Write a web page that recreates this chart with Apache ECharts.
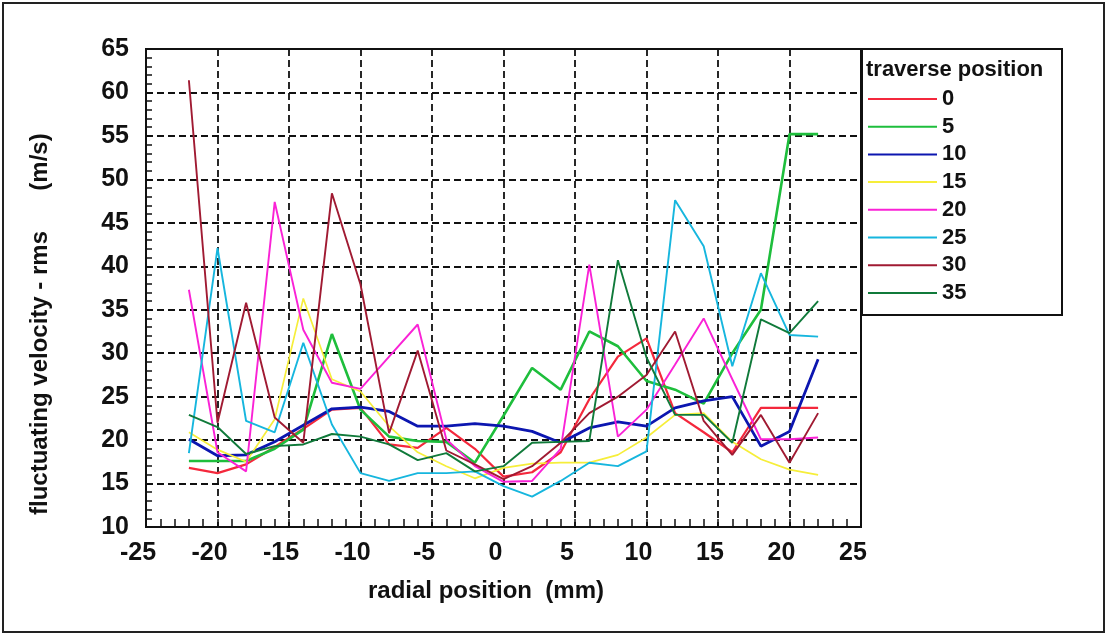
<!DOCTYPE html>
<html>
<head>
<meta charset="utf-8">
<script src="https://cdn.jsdelivr.net/npm/echarts@6/dist/echarts.min.js"></script>
<style>
  html, body { margin: 0; padding: 0; background: #fff; }
  #chart { width: 1109px; height: 637px; }
</style>
</head>
<body>
<div id="chart"></div>
<script>
// radial positions (mm) at which the rms velocity was sampled
const radialPos = [-22, -20, -18, -16, -14, -12, -10, -8, -6, -4, -2, 0, 2, 4, 6, 8, 10, 12, 14, 16, 18, 20, 22];

// fluctuating velocity rms (m/s), one array per traverse position
const tp0  = [16.8, 16.2, 17.2, 19.2, 21.3, 23.5, 23.7, 19.5, 19.1, 21.4, 19.0, 15.8, 16.3, 18.6, 24.7, 29.6, 31.7, 23.1, 20.9, 18.6, 23.7, 23.7, 23.7];
const tp5  = [17.6, 17.6, 17.6, 19.0, 21.2, 32.2, 23.5, 20.4, 19.9, 19.8, 17.4, 22.8, 28.3, 25.8, 32.5, 30.8, 26.8, 25.8, 24.2, 30.0, 35.0, 55.2, 55.2];
const tp10 = [20.1, 18.2, 18.3, 19.8, 21.7, 23.6, 23.8, 23.3, 21.6, 21.6, 21.9, 21.6, 21.0, 19.7, 21.4, 22.1, 21.6, 23.7, 24.5, 25.0, 19.3, 21.0, 29.3];
const tp15 = [20.9, 18.9, 17.5, 22.4, 36.3, 27.0, 25.6, 21.6, 18.6, 17.0, 15.6, 16.8, 17.3, 17.4, 17.4, 18.3, 20.3, 22.9, 23.1, 19.8, 17.8, 16.6, 16.0];
const tp20 = [37.3, 18.6, 16.4, 47.4, 32.7, 26.6, 25.9, 29.6, 33.3, 20.1, 17.0, 15.2, 15.3, 19.0, 40.2, 20.4, 23.5, 28.7, 34.0, 27.0, 20.1, 20.1, 20.3];
const tp25 = [18.5, 42.1, 22.2, 20.9, 31.2, 21.8, 16.2, 15.3, 16.2, 16.2, 16.4, 14.7, 13.5, 15.3, 17.4, 17.0, 18.7, 47.6, 42.3, 28.5, 39.2, 32.1, 31.9];
const tp30 = [61.4, 22.0, 35.8, 22.6, 19.7, 48.4, 37.9, 20.8, 30.3, 18.8, 17.2, 15.5, 17.0, 19.7, 23.1, 25.0, 27.5, 32.5, 22.2, 18.3, 22.9, 17.4, 23.1];
const tp35 = [22.9, 21.5, 18.4, 19.3, 19.5, 20.7, 20.4, 19.5, 17.7, 18.5, 16.4, 17.0, 19.7, 19.8, 19.9, 40.7, 29.5, 22.9, 22.9, 19.7, 33.9, 32.3, 36.0];

const seriesNames = ['0', '5', '10', '15', '20', '25', '30', '35'];
const seriesValues = [tp0, tp5, tp10, tp15, tp20, tp25, tp30, tp35];
const seriesColors = ['#f4283c', '#1ebe3c', '#0c16b0', '#f6ee3a', '#fa22d6', '#16b6de', '#a01a32', '#107a3a'];
const seriesWidths = [2.2, 2.6, 2.8, 1.7, 1.9, 1.9, 1.9, 1.9];

const axisFont = 'Liberation Sans, Arial, sans-serif';

const chart = echarts.init(document.getElementById('chart'), null, { renderer: 'canvas' });

const series = seriesNames.map((name, i) => ({
  name: name,
  type: 'line',
  xAxisIndex: 0,
  yAxisIndex: 0,
  data: radialPos.map((x, j) => [x, seriesValues[i][j]]),
  showSymbol: false,
  symbol: 'none',
  animation: false,
  lineStyle: { color: seriesColors[i], width: seriesWidths[i] },
  itemStyle: { color: seriesColors[i] },
  z: 3
}));

const gridDash = { color: '#111', width: 1.8, type: [7, 4] };
const labelStyle = { color: '#111', fontFamily: axisFont, fontWeight: 'bold', fontSize: 25 };
const axisLineStyle = { show: true, onZero: false, lineStyle: { color: '#111', width: 2 } };

// companion axes that only carry the 1-unit tick marks pointing into the plot
const unitTickAxis = (min, max, pos, len) => ({
  type: 'value', min: min, max: max, interval: 1, position: pos,
  axisLine: axisLineStyle,
  axisTick: { show: true, inside: true, length: len, lineStyle: { color: '#111', width: 1.5 } },
  axisLabel: { show: false },
  splitLine: { show: false }
});

chart.setOption({
  backgroundColor: '#fff',
  animation: false,
  grid: {
    left: 146, top: 49, right: 248, bottom: 110,
    show: true, borderColor: '#111', borderWidth: 2, backgroundColor: 'transparent'
  },
  xAxis: [{
    type: 'value', min: -25, max: 25, interval: 5, position: 'bottom',
    axisLine: axisLineStyle,
    axisTick: { show: false },
    axisLabel: Object.assign({ margin: 14, padding: [0, 16, 0, 0] }, labelStyle),
    splitLine: { show: true, lineStyle: gridDash }
  }, unitTickAxis(-25, 25, 'bottom', 8)],
  yAxis: [{
    type: 'value', min: 10, max: 65, interval: 5, position: 'left',
    axisLine: axisLineStyle,
    axisTick: { show: false },
    axisLabel: Object.assign({ margin: 17 }, labelStyle),
    splitLine: { show: true, lineStyle: gridDash }
  }, unitTickAxis(10, 65, 'left', 6)],
  legend: {
    orient: 'vertical', left: 868, top: 88, padding: 0,
    itemWidth: 69, itemHeight: 14, itemGap: 5.7,
    icon: 'path://M0,6 L69,6 L69,8 L0,8 Z',
    data: seriesNames,
    textStyle: { color: '#111', fontFamily: axisFont, fontWeight: 'bold', fontSize: 22 }
  },
  graphic: [
    // outer frame
    { type: 'rect', shape: { x: 3, y: 3, width: 1101, height: 629 },
      style: { fill: 'none', stroke: '#222', lineWidth: 2 }, z: 0, silent: true },
    // legend box
    { type: 'rect', shape: { x: 862, y: 49, width: 200, height: 266 },
      style: { fill: '#fff', stroke: '#111', lineWidth: 2 }, z: 1, silent: true },
    { type: 'text', left: 866, top: 59, z: 10,
      style: { text: 'traverse position', fill: '#111', font: 'bold 22px ' + axisFont } },
    // horizontal axis title
    { type: 'text', x: 486, y: 591, z: 10,
      style: { text: 'radial position  (mm)', fill: '#111', font: 'bold 24px ' + axisFont,
               align: 'center', verticalAlign: 'middle' } },
    // vertical axis title
    { type: 'text', x: 40, y: 373, rotation: Math.PI / 2, z: 10,
      style: { text: 'fluctuating velocity - rms', fill: '#111', font: 'bold 24px ' + axisFont,
               align: 'center', verticalAlign: 'middle' } },
    { type: 'text', x: 40, y: 162, rotation: Math.PI / 2, z: 10,
      style: { text: '(m/s)', fill: '#111', font: 'bold 24px ' + axisFont,
               align: 'center', verticalAlign: 'middle' } }
  ],
  series: series
});
</script>
</body>
</html>
